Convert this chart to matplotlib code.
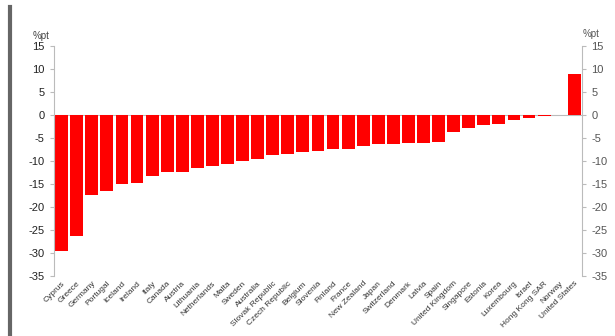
import matplotlib
matplotlib.use("Agg")
import matplotlib.pyplot as plt
from matplotlib.lines import Line2D

plt.rcParams['font.family'] = ['Liberation Sans', 'DejaVu Sans']

countries = ["Cyprus", "Greece", "Germany", "Portugal", "Iceland", "Ireland", "Italy",
             "Canada", "Austria", "Lithuania", "Netherlands", "Malta", "Sweden",
             "Australia", "Slovak Republic", "Czech Republic", "Belgium", "Slovenia",
             "Finland", "France", "New Zealand", "Japan", "Switzerland", "Denmark",
             "Latvia", "Spain", "United Kingdom", "Singapore", "Estonia", "Korea",
             "Luxembourg", "Israel", "Hong Kong SAR", "Norway", "United States"]
values = [-29.5, -26.3, -17.5, -16.6, -15.0, -14.8, -13.2,
          -12.4, -12.3, -11.5, -11.0, -10.7, -10.1,
          -9.6, -8.7, -8.5, -8.0, -7.8,
          -7.5, -7.3, -6.7, -6.4, -6.3, -6.2,
          -6.1, -5.8, -3.8, -2.9, -2.1, -1.9,
          -1.2, -0.7, -0.2, -0.05, 8.9]
yticks = [15, 10, 5, 0, -5, -10, -15, -20, -25, -30, -35]

fig = plt.figure(figsize=(6.15, 3.36), dpi=100)
ax = fig.add_axes([0.088, 0.179, 0.858, 0.684])

x = list(range(len(countries)))
ax.bar(x, values, width=0.85, color="#ff0000", zorder=2)
ax.axhline(0, color="#bbbbbb", lw=0.8, zorder=1)

ax.set_xlim(-0.5, 34.5)
ax.set_ylim(-35, 15)
ax.set_yticks(yticks)
ax.set_yticklabels([str(t) for t in yticks], fontsize=8, color="#222222")
ax.tick_params(axis="y", length=3, color="#bbbbbb", pad=4)

ax.set_xticks(x)
ax.set_xticklabels(countries, rotation=45, ha="right", rotation_mode="anchor",
                   fontsize=6, color="#333333")
ax.tick_params(axis="x", length=0, pad=3)

for s in ["top", "bottom", "right"]:
    ax.spines[s].set_visible(False)
ax.spines["left"].set_color("#bbbbbb")

# right axis mirroring the left one
ax2 = ax.twinx()
ax2.set_ylim(-35, 15)
ax2.set_yticks(yticks)
ax2.set_yticklabels([str(t) for t in yticks], fontsize=8, color="#555555")
ax2.tick_params(axis="y", length=3, color="#bbbbbb", pad=4)
for s in ["top", "bottom", "left"]:
    ax2.spines[s].set_visible(False)
ax2.spines["right"].set_color("#bbbbbb")

fig.text(0.053, 0.885, "%pt", fontsize=7, color="#444444")
fig.text(0.948, 0.890, "%pt", fontsize=7, color="#555555")

# grey bar at the left edge
fig.add_artist(Line2D([0.017, 0.017], [0.0, 0.98], color="#666666", lw=3))

fig.savefig("out.png", dpi=100)
